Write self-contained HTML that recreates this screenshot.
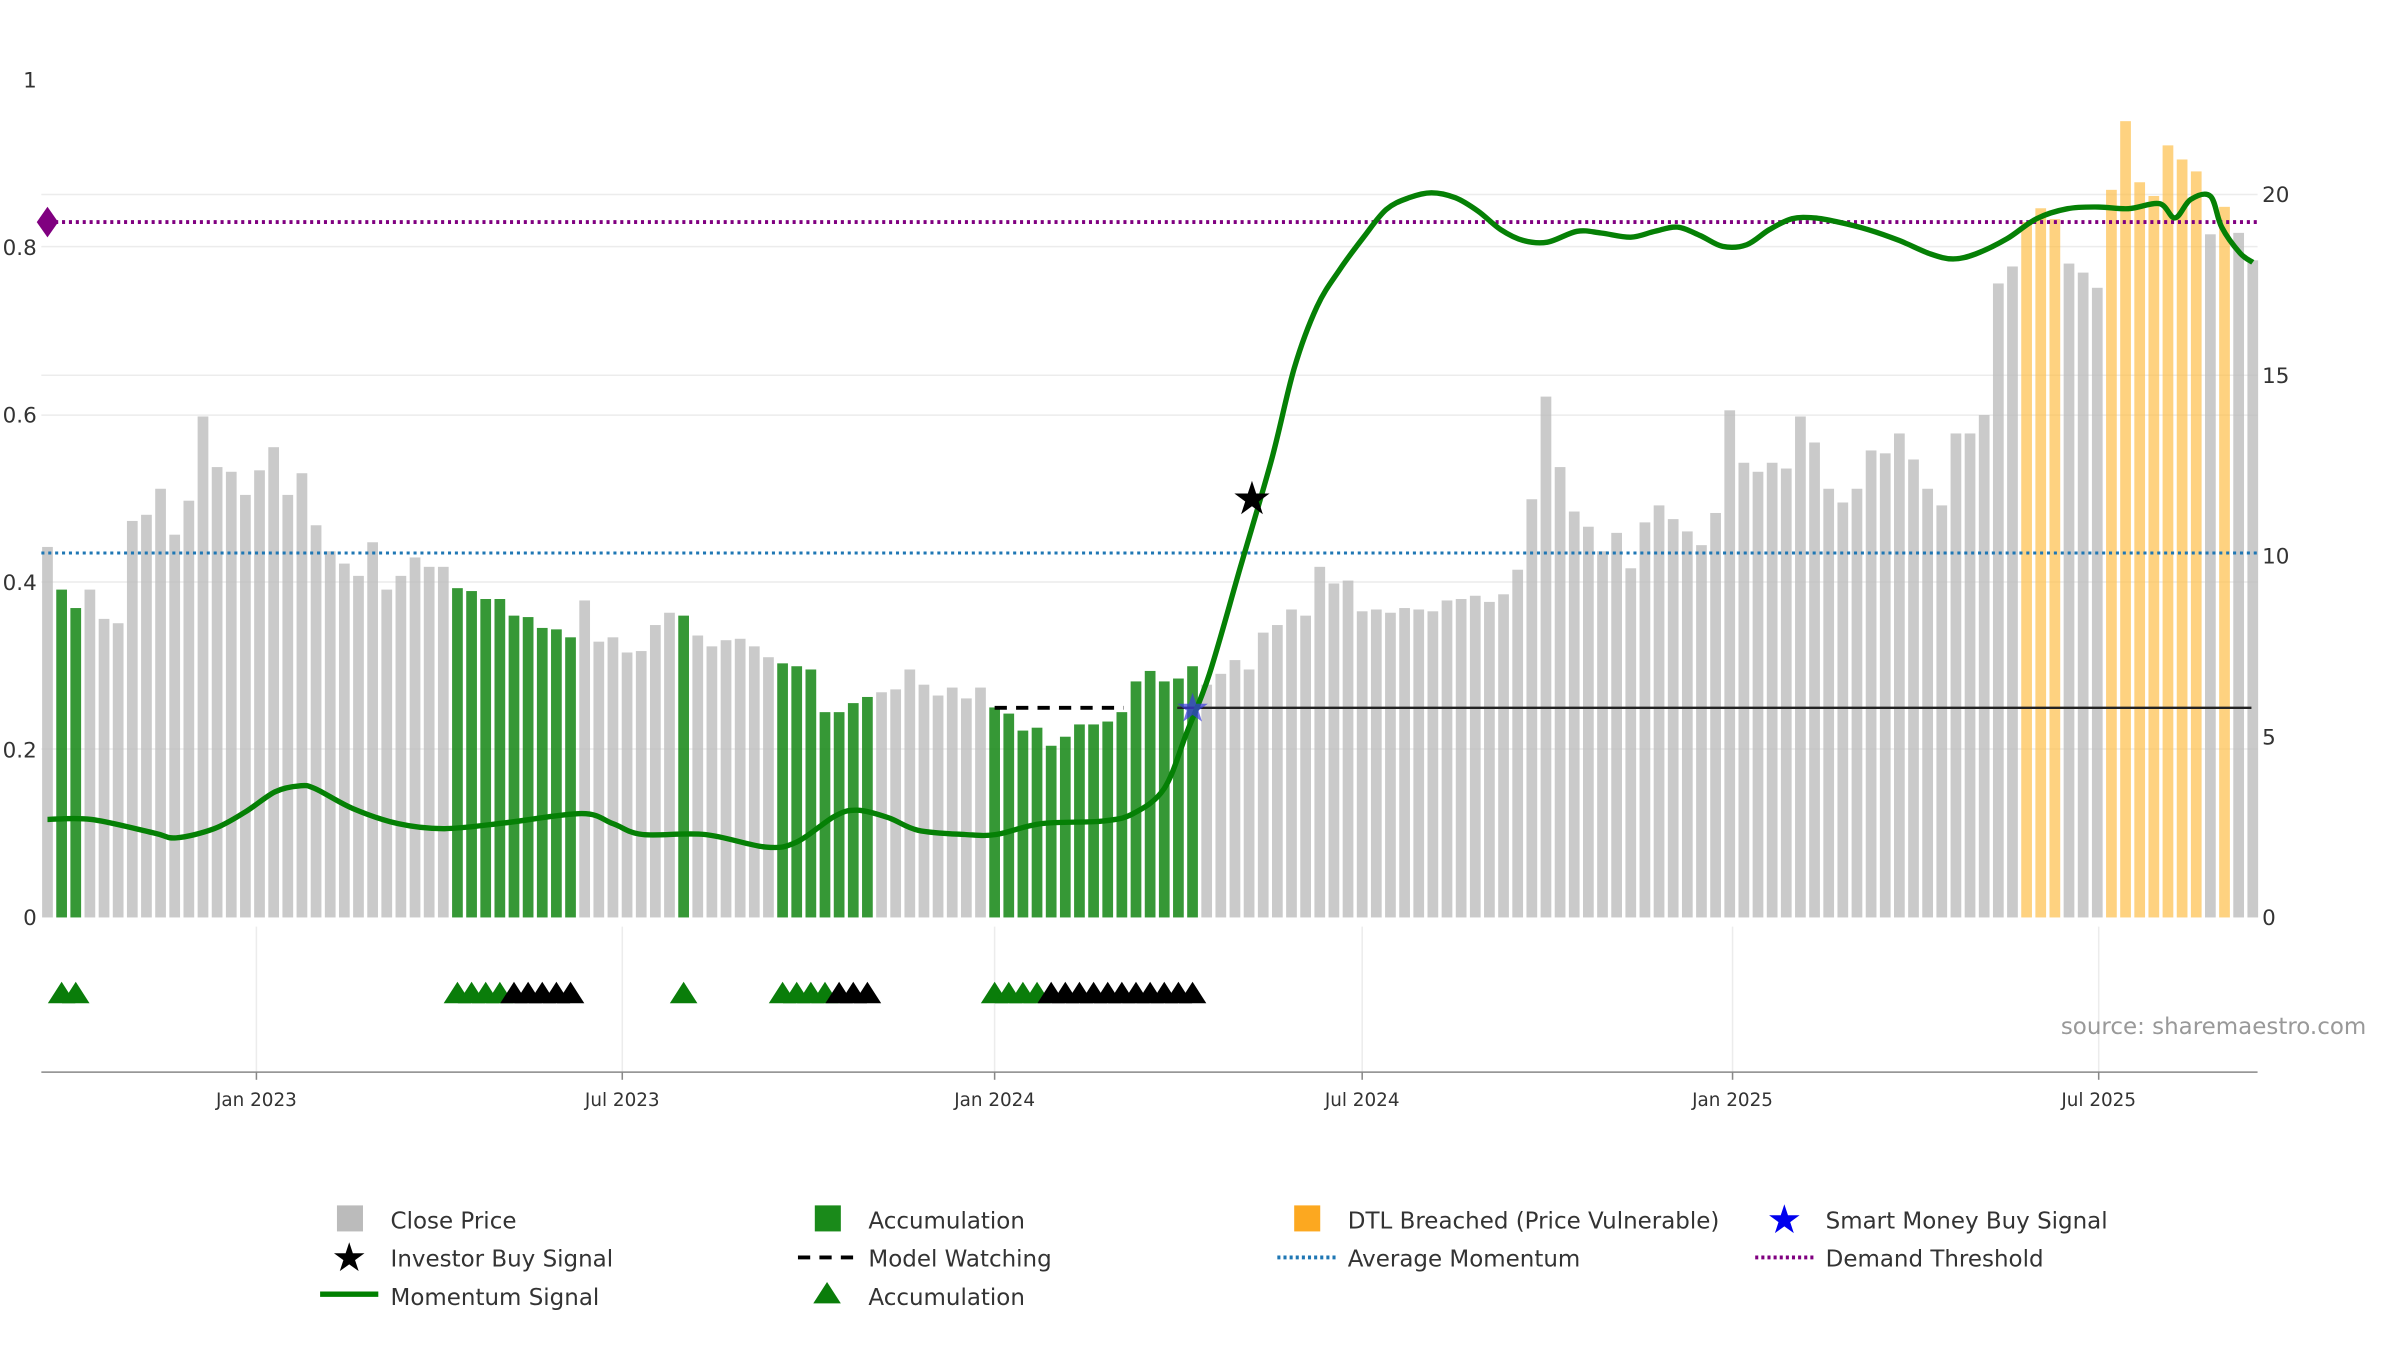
<!DOCTYPE html>
<html><head><meta charset="utf-8"><style>
html,body{margin:0;padding:0;background:#fff;}
svg{display:block;font-family:"DejaVu Sans","Liberation Sans",sans-serif;}
</style></head><body>
<svg id="chart" width="2400" height="1350" viewBox="0 0 1567 881.4" xmlns="http://www.w3.org/2000/svg">
<g id="grid"></g>
<g id="bars"></g>
<g id="lines"></g>
<g id="marks"></g>
<g id="axes"></g>
<text x="1545" y="675" text-anchor="end" font-size="15" fill="#999">source: sharemaestro.com</text>
<g id="legend" font-size="15" fill="#333">
 <g><rect x="220" y="787" width="17" height="17" fill="#bbb"/><text x="255" y="802">Close Price</text></g>
 <g><rect x="532" y="787" width="17" height="17" fill="#1a8a1a"/><text x="567" y="802">Accumulation</text></g>
 <g><rect x="845" y="787" width="17" height="17" fill="#fca820"/><text x="880" y="802">DTL Breached (Price Vulnerable)</text></g>
 <g><text x="1165" y="805" font-size="26" fill="#0000ee" text-anchor="middle">★</text><text x="1192" y="802">Smart Money Buy Signal</text></g>
 <g><text x="228" y="830" font-size="26" fill="#000" text-anchor="middle">★</text><text x="255" y="827">Investor Buy Signal</text></g>
 <g><line x1="521" y1="821" x2="559" y2="821" stroke="#000" stroke-width="2.5" stroke-dasharray="8,6"/><text x="567" y="827">Model Watching</text></g>
 <g><line x1="834" y1="821" x2="872" y2="821" stroke="#1f77b4" stroke-width="2.5" stroke-dasharray="2,2"/><text x="880" y="827">Average Momentum</text></g>
 <g><line x1="1146" y1="821" x2="1184" y2="821" stroke="#800080" stroke-width="2.5" stroke-dasharray="2,2"/><text x="1192" y="827">Demand Threshold</text></g>
 <g><line x1="209" y1="845" x2="247" y2="845" stroke="#008000" stroke-width="3.5"/><text x="255" y="852">Momentum Signal</text></g>
 <g><polygon points="531,851 540,837 549,851" fill="#0a7d0a"/><text x="567" y="852">Accumulation</text></g>
</g>
</svg>
<script>
const prices=[10.25,9.07,8.56,9.07,8.26,8.14,10.97,11.14,11.86,10.59,11.53,13.86,12.46,12.33,11.69,12.37,13.01,11.69,12.29,10.85,10.13,9.79,9.45,10.38,9.07,9.45,9.96,9.70,9.70,9.11,9.03,8.81,8.81,8.35,8.31,8.01,7.97,7.75,8.77,7.63,7.75,7.33,7.37,8.09,8.43,8.35,7.80,7.50,7.67,7.71,7.50,7.20,7.03,6.95,6.86,5.68,5.68,5.93,6.10,6.23,6.31,6.86,6.44,6.14,6.36,6.06,6.36,5.81,5.64,5.17,5.25,4.75,5.00,5.34,5.34,5.42,5.68,6.53,6.82,6.53,6.61,6.95,6.44,6.74,7.12,6.86,7.88,8.09,8.52,8.35,9.70,9.24,9.32,8.47,8.52,8.43,8.56,8.52,8.47,8.77,8.81,8.90,8.73,8.94,9.62,11.57,14.41,12.46,11.23,10.81,10.13,10.64,9.66,10.93,11.40,11.02,10.68,10.30,11.19,14.03,12.58,12.33,12.58,12.42,13.86,13.14,11.86,11.48,11.86,12.92,12.84,13.39,12.67,11.86,11.40,13.39,13.39,13.90,17.54,18.01,19.24,19.62,19.32,18.09,17.84,17.42,20.13,22.03,20.34,19.96,21.36,20.97,20.64,18.90,19.66,18.94,18.18];
const accumRanges=[[1,2],[29,37],[45,45],[52,58],[67,81]];
const dtlRanges=[[140,142],[146,152],[154,154]];
const greenTri=[1,2,29,30,31,32,45,52,53,54,55,67,68,69,70];
const blackTri=[33,34,35,36,37,56,57,58,71,72,73,74,75,76,77,78,79,80,81];
const momWeeks=[0,3.1,7.5,9.1,11.8,14,16.1,17.8,18.9,21.6,24.8,28.1,32.4,37.8,40,42.1,46.5,50.8,53,55.7,57.3,59.5,61.6,64.9,67.1,70.3,74.6,76.8,79,80.6,82.2,84.4,86.6,88.2,89.8,91.4,93.1,94.7,96.3,97.9,99.6,101.2,102.8,104.4,106.1,108.2,109.9,112,113.7,115.3,116.9,118.5,120.2,121.8,123.4,125,126.7,128.8,131,133.2,134.8,136.4,138.6,140.7,142.9,145.1,147.2,149.4,150.5,151.6,153,153.8,155.1,156];
const momVals=[0.117,0.117,0.101,0.095,0.106,0.126,0.150,0.157,0.154,0.130,0.112,0.106,0.113,0.124,0.112,0.099,0.099,0.084,0.090,0.121,0.128,0.119,0.104,0.099,0.099,0.112,0.115,0.124,0.154,0.221,0.291,0.419,0.547,0.656,0.729,0.773,0.812,0.845,0.859,0.865,0.859,0.843,0.821,0.808,0.806,0.819,0.817,0.812,0.819,0.824,0.814,0.801,0.803,0.821,0.834,0.835,0.830,0.821,0.808,0.792,0.786,0.792,0.810,0.834,0.846,0.848,0.846,0.852,0.835,0.857,0.861,0.824,0.793,0.782];
const leftTicks=[0,0.2,0.4,0.6,0.8,1];
const leftTickLabels=["0","0.2","0.4","0.6","0.8","1"];
const rightTicks=[0,5,10,15,20];
const dateTicks=[["Jan 2023",14.78],["Jul 2023",40.66],["Jan 2024",67],["Jul 2024",93],["Jan 2025",119.2],["Jul 2025",145.1]];
const avgMomentum=0.435, demandThreshold=0.83, watchLevel=5.8, watchStart=67, smartIdx=81, investorIdx=85.2, investorVal=0.5;

const NS="http://www.w3.org/2000/svg";
const X0=31, DX=9.23, Y0=599;
const xS=i=>X0+i*DX;
const yL=v=>Y0-v*547;
const yR=v=>Y0-v*23.6;
function mk(tag,attrs,parent){const e=document.createElementNS(NS,tag);for(const k in attrs)e.setAttribute(k,attrs[k]);parent.appendChild(e);return e;}
const G=id=>document.getElementById(id);
const inR=(i,r)=>r.some(([a,b])=>i>=a&&i<=b);

[161,245,271,380,489,127].forEach(y=>{const l=mk('line',{x1:27,x2:1474,y1:y,y2:y,stroke:'#ececec','stroke-width':1},G('grid'));});
dateTicks.forEach(([t,w])=>{const l=mk('line',{x1:xS(w),x2:xS(w),y1:605,y2:700,stroke:'#ececec'},G('grid'));});

prices.forEach((p,i)=>{
  let fill='#bdbdbd',op=0.8,name='price-bar';
  if(inR(i,accumRanges)){fill='#1a8a1a';op=0.88;name='accumulation-bar';}
  else if(inR(i,dtlRanges)){fill='#fdbf4a';op=0.7;name='dtl-breached-bar';}
  const r=mk('rect',{x:xS(i)-3.5,y:yR(p),width:7,height:Y0-yR(p),fill:fill,'fill-opacity':op},G('bars'));
  
  
});

let l;
l=mk('line',{x1:27,x2:1474,y1:yL(avgMomentum),y2:yL(avgMomentum),stroke:'#1f77b4','stroke-width':2,'stroke-dasharray':'2,2.5'},G('lines'));


l=mk('line',{x1:27,x2:1474,y1:yL(demandThreshold),y2:yL(demandThreshold),stroke:'#800080','stroke-width':2.5,'stroke-dasharray':'2,2.5'},G('lines'));


l=mk('line',{x1:xS(watchStart),x2:xS(smartIdx)-45,y1:yR(watchLevel),y2:yR(watchLevel),stroke:'#000','stroke-width':2.5,'stroke-dasharray':'8,6'},G('lines'));


l=mk('line',{x1:xS(smartIdx)-10,x2:1470,y1:yR(watchLevel),y2:yR(watchLevel),stroke:'#222','stroke-width':1.6},G('lines'));



const pts=momWeeks.map((w,i)=>[xS(w),yL(momVals[i])]);
let d='M'+pts[0][0]+','+pts[0][1];
for(let i=0;i<pts.length-1;i++){const p0=pts[Math.max(0,i-1)],p1=pts[i],p2=pts[i+1],p3=pts[Math.min(pts.length-1,i+2)];
 d+=` C${p1[0]+(p2[0]-p0[0])/6},${p1[1]+(p2[1]-p0[1])/6} ${p2[0]-(p3[0]-p1[0])/6},${p2[1]-(p3[1]-p1[1])/6} ${p2[0]},${p2[1]}`;}
l=mk('path',{d:d,fill:'none',stroke:'#058005','stroke-width':3.5,'stroke-linejoin':'round'},G('lines'));



let m=mk('polygon',{points:`${xS(0)-7},${yL(demandThreshold)} ${xS(0)},${yL(demandThreshold)-10} ${xS(0)+7},${yL(demandThreshold)} ${xS(0)},${yL(demandThreshold)+10}`,fill:'#800080'},G('marks'));


m=mk('text',{x:xS(smartIdx),y:yR(watchLevel)+9,'font-size':26,'text-anchor':'middle',fill:'#3a3ae0','fill-opacity':0.7},G('marks'));m.textContent='★';


m=mk('text',{x:xS(investorIdx),y:yL(investorVal)+10,'font-size':30,'text-anchor':'middle',fill:'#000'},G('marks'));m.textContent='★';


greenTri.forEach(i=>{const t=mk('polygon',{points:`${xS(i)-9},655 ${xS(i)},641 ${xS(i)+9},655`,fill:'#0a7d0a'},G('marks'));
 
 });
blackTri.forEach(i=>{const t=mk('polygon',{points:`${xS(i)-9},655 ${xS(i)},641 ${xS(i)+9},655`,fill:'#000'},G('marks'));
 
 });

l=mk('line',{x1:27,x2:1474,y1:700,y2:700,stroke:'#888','stroke-width':1},G('axes'));


leftTicks.forEach((v,i)=>{const t=mk('text',{x:24,y:yL(v)+5,'font-size':14,'text-anchor':'end',fill:'#333'},G('axes'));t.textContent=leftTickLabels[i];
 
 });
rightTicks.forEach(v=>{const t=mk('text',{x:1477,y:yR(v)+5,'font-size':14,fill:'#333'},G('axes'));t.textContent=String(v);
 
 });
dateTicks.forEach(([s,w])=>{const t=mk('text',{x:xS(w),y:722,'font-size':12,'text-anchor':'middle',fill:'#333'},G('axes'));t.textContent=s;
 
 
 const k=mk('line',{x1:xS(w),x2:xS(w),y1:700,y2:705,stroke:'#888'},G('axes'));
 
 });
</script>
</body></html>
